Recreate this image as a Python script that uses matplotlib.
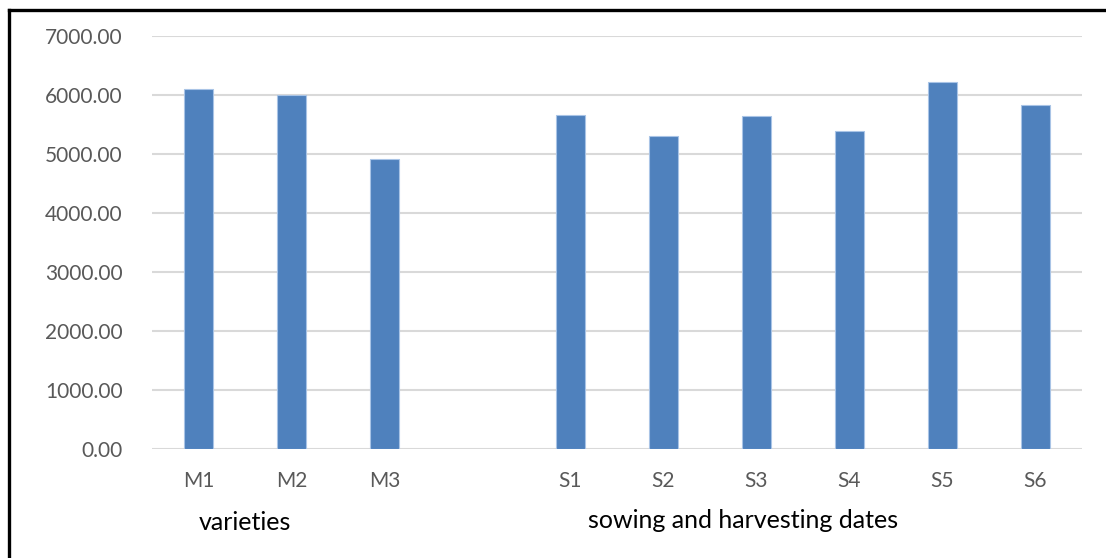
import numpy as np
import matplotlib
matplotlib.use("Agg")
import matplotlib.pyplot as plt
from matplotlib.lines import Line2D

categories = ["M1", "M2", "M3", "", "S1", "S2", "S3", "S4", "S5", "S6"]
values = [6110, 5995, 4915, np.nan, 5660, 5305, 5650, 5385, 6225, 5825]
yticks = [0, 1000, 2000, 3000, 4000, 5000, 6000, 7000]
group_labels = ["varieties", "sowing and harvesting dates"]

plt.rcParams['font.family'] = ['Lato', 'DejaVu Sans']

W, H = 1106, 558
fig = plt.figure(figsize=(W / 100, H / 100), dpi=100)
ax = fig.add_axes([152 / W, 1 - 449 / H, (1082 - 152) / W, (449 - 36) / H])

x = np.arange(len(categories))
ax.bar(x, values, width=0.31, color="#4F81BD", edgecolor="#A9C4E6", linewidth=0.8, zorder=3)

ax.set_xlim(-0.5, len(categories) - 0.5)
ax.set_ylim(0, 7000)
ax.set_yticks(yticks)
ax.set_yticklabels([f"{v:.2f}" for v in yticks])
ax.set_xticks(x)
ax.set_xticklabels(categories)
ax.grid(axis="y", color="#D9D9D9", linewidth=1.5, zorder=0)
ax.set_axisbelow(True)
for s in ["top", "right", "left", "bottom"]:
    ax.spines[s].set_visible(False)
ax.tick_params(axis="both", length=0, colors="#595959", labelsize=15)
ax.tick_params(axis="y", pad=21)
ax.tick_params(axis="x", pad=16)

fig.text(245 / W, 1 - 522 / H, group_labels[0], ha="center", va="center", fontsize=18, color="black")
fig.text(743 / W, 1 - 520 / H, group_labels[1], ha="center", va="center", fontsize=18, color="black")

# frame lines (left and top)
fig.add_artist(Line2D([8.5 / W, 8.5 / W], [0, 1 - 9.5 / H], transform=fig.transFigure, color="black", linewidth=2.4))
fig.add_artist(Line2D([8.5 / W, 1], [1 - 9.5 / H, 1 - 9.5 / H], transform=fig.transFigure, color="black", linewidth=2.4))

fig.savefig("out.png", dpi=100)
